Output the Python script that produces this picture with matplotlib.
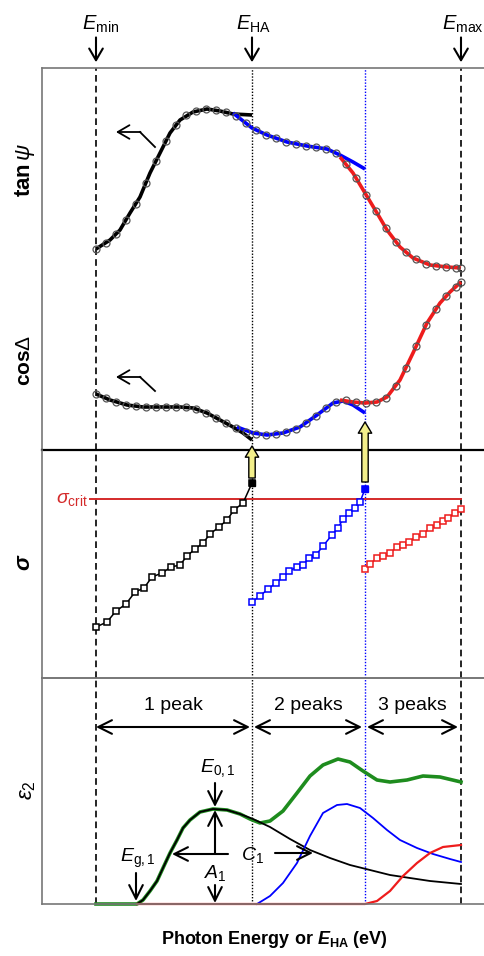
import numpy as np
import matplotlib
matplotlib.use('Agg')
import matplotlib.pyplot as plt

plt.rcParams['font.family'] = ['Liberation Sans', 'DejaVu Sans']
plt.rcParams['mathtext.fontset'] = 'custom'
plt.rcParams['mathtext.rm'] = 'Liberation Sans'
plt.rcParams['mathtext.it'] = 'Liberation Sans:italic'
plt.rcParams['mathtext.bf'] = 'Liberation Sans:bold'
plt.rcParams['mathtext.bfit'] = 'Liberation Sans:italic:bold'

# energies (eV) of the window edges
E_MIN, E_HA, E_2, E_MAX = 1.54, 3.10, 4.23, 5.19

# measured data grid (eV)
e_meas = [1.54, 1.64, 1.74, 1.84, 1.94, 2.04, 2.14, 2.24, 2.34, 2.44, 2.54, 2.64,
          2.74, 2.84, 2.94, 3.04, 3.14, 3.24, 3.34, 3.44, 3.54, 3.64, 3.74, 3.84,
          3.94, 4.04, 4.14, 4.24, 4.34, 4.44, 4.54, 4.64, 4.74, 4.84, 4.94, 5.04,
          5.14, 5.19]
tanpsi_meas = [201, 207, 216, 230, 246, 267, 289, 309, 325, 335, 339, 341,
               340, 338, 334, 327, 320, 315, 312, 308, 306, 304, 303, 301,
               297, 286, 272, 255, 239, 222, 208, 198, 191, 186, 184, 183,
               182, 182]
cosd_meas = [56, 52, 48, 45, 44, 43, 43, 43, 43, 43, 41, 37,
             32, 27, 22, 18, 16, 15, 16, 18, 21, 27, 34, 42,
             48, 50, 48, 47, 48, 52, 64, 82, 104, 125, 141, 154,
             163, 168]

# fits: 1 peak, 2 peaks, 3 peaks
e_fit1_psi = [1.54, 1.68, 1.78, 1.88, 1.98, 2.08, 2.18, 2.28, 2.38, 2.51, 2.65, 2.78, 2.91, 3.10]
tanpsi_fit1 = [201, 210, 220, 237, 253, 277, 297, 317, 330, 338, 341, 339, 336, 335]
e_fit2_psi = [2.91, 3.10, 3.25, 3.45, 3.65, 3.85, 3.98, 4.11, 4.23]
tanpsi_fit2 = [337, 322, 315, 308, 304, 301, 295, 288, 281]
e_fit3_psi = [3.98, 4.11, 4.23, 4.35, 4.45, 4.58, 4.71, 4.88, 5.05, 5.19]
tanpsi_fit3 = [293, 277, 257, 237, 220, 203, 192, 185, 183, 182]

e_fit1_cos = [1.54, 1.68, 1.85, 2.01, 2.18, 2.38, 2.51, 2.65, 2.78, 2.91, 3.01, 3.10]
cosd_fit1 = [56, 50, 45, 43, 43, 43, 42, 37, 30, 23, 17, 10]
e_fit2_cos = [2.95, 3.11, 3.25, 3.41, 3.58, 3.75, 3.91, 4.01, 4.11, 4.23]
cosd_fit2 = [23, 17, 15, 17, 23, 35, 47, 49, 45, 37]
e_fit3_cos = [3.98, 4.11, 4.23, 4.35, 4.45, 4.58, 4.71, 4.85, 4.98, 5.08, 5.19]
cosd_fit3 = [50, 48, 47, 48, 53, 70, 97, 127, 147, 158, 168]

# fit error sigma versus E_HA
e_sig1 = [1.54, 1.65, 1.74, 1.84, 1.93, 2.02, 2.10, 2.20, 2.29, 2.38, 2.45, 2.53,
          2.61, 2.68, 2.77, 2.85, 2.92, 3.01, 3.10]
sig1 = [51, 56, 67, 74, 86, 90, 101, 105, 111, 113, 122, 129, 135, 144, 151, 158,
        168, 175, 195]
e_sig2 = [3.10, 3.18, 3.26, 3.34, 3.41, 3.47, 3.55, 3.61, 3.67, 3.74, 3.81, 3.90,
          3.96, 4.01, 4.07, 4.13, 4.18, 4.23]
sig2 = [76, 82, 89, 95, 101, 107, 111, 113, 120, 123, 132, 143, 150, 159, 165,
        170, 176, 189]
e_sig3 = [4.23, 4.28, 4.35, 4.41, 4.48, 4.55, 4.61, 4.67, 4.74, 4.81, 4.88, 4.95,
          5.01, 5.06, 5.13, 5.19]
sig3 = [109, 114, 120, 122, 125, 131, 133, 136, 141, 144, 150, 153, 157, 160,
        165, 169]
SIG_CRIT = 179

# epsilon2 of the peaks and their sum
e_eps1 = [1.95, 2.01, 2.08, 2.15, 2.21, 2.28, 2.35, 2.41, 2.48, 2.58, 2.71, 2.85,
          2.98, 3.11, 3.28, 3.48, 3.68, 3.88, 4.08, 4.28, 4.48, 4.68, 4.88, 5.19]
eps1 = [0, 4, 13, 23, 36, 51, 64, 76, 84, 92, 95, 94, 90, 85, 77, 65, 54, 46, 39,
        34, 29, 26, 23, 20]
e_eps2 = [3.15, 3.28, 3.41, 3.55, 3.68, 3.81, 3.95, 4.05, 4.18, 4.31, 4.45, 4.58,
          4.75, 4.91, 5.08, 5.19]
eps2 = [0, 8, 21, 41, 68, 91, 99, 100, 96, 86, 74, 64, 56, 50, 45, 42]
e_eps3 = [1.95, 4.23, 4.35, 4.48, 4.61, 4.75, 4.88, 5.01, 5.19]
eps3 = [0, 0, 3, 13, 28, 41, 51, 57, 59]
e_sum = [1.54, 1.95, 2.01, 2.08, 2.15, 2.21, 2.28, 2.35, 2.41, 2.48, 2.58, 2.71,
         2.85, 2.98, 3.08, 3.18, 3.28, 3.41, 3.55, 3.68, 3.81, 3.96, 4.08, 4.21,
         4.35, 4.48, 4.65, 4.81, 4.98, 5.19]
eps_sum = [0, 0, 4, 13, 23, 36, 51, 64, 76, 84, 92, 95, 94, 90, 85, 81, 83, 93,
           111, 128, 139, 145, 142, 133, 124, 122, 124, 128, 127, 122]

RED = '#ee1c1c'
GREEN = '#1e8c1e'
FRAME = '#777777'

W, H = 484.0, 956.0
fig = plt.figure(figsize=(W / 100, H / 100), dpi=100)


def box(top, bot):
    return [42 / W, 1 - bot / H, 448 / W, (bot - top) / H]


ax1 = fig.add_axes(box(68, 450))
ax2 = fig.add_axes(box(450, 678))
ax3 = fig.add_axes(box(678, 904))
ax1.set_ylim(0, 382)
ax2.set_ylim(0, 228)
ax3.set_ylim(0, 226)
for ax in (ax1, ax2, ax3):
    ax.set_xlim(1.0, 5.48)
    ax.set_xticks([])
    ax.set_yticks([])
    ax.patch.set_alpha(0)
    for s in ax.spines.values():
        s.set_color(FRAME)
        s.set_linewidth(1.2)
    ax.axvline(E_MIN, color='k', ls=(0, (4, 2.5)), lw=1.2)
    ax.axvline(E_HA, color='k', ls=(0, (1, 1.2)), lw=1)
    ax.axvline(E_2, color='blue', ls=(0, (1, 1.2)), lw=1)
    ax.axvline(E_MAX, color='k', ls=(0, (4, 2.5)), lw=1.2)
ax1.spines['bottom'].set_color('k')
ax1.spines['bottom'].set_linewidth(1.6)
ax2.spines['top'].set_visible(False)
ax2.set_zorder(5)

# ---- top panel: tan psi and cos Delta
for e, v, c in [(e_fit1_psi, tanpsi_fit1, 'k'), (e_fit2_psi, tanpsi_fit2, 'blue'),
                (e_fit3_psi, tanpsi_fit3, RED), (e_fit1_cos, cosd_fit1, 'k'),
                (e_fit2_cos, cosd_fit2, 'blue'), (e_fit3_cos, cosd_fit3, RED)]:
    ax1.plot(e, v, color=c, lw=2.6, solid_capstyle='butt')
for v in (tanpsi_meas, cosd_meas):
    ax1.plot(e_meas, v, ls='none', marker='o', ms=5, mfc='none',
             mec='#555555', mew=0.9)

# bent arrows
for yh, yd in [(318, 303), (73, 59)]:
    ax1.plot([1.98, 2.13], [yh, yd], color='k', lw=1.3)
    ax1.annotate('', xy=(1.74, yh), xytext=(1.985, yh),
                 arrowprops=dict(arrowstyle='->,head_length=0.6,head_width=0.35',
                                 lw=1.3, color='k', shrinkA=0, shrinkB=0,
                                 mutation_scale=14))

# energy markers above
for e, sub, dx in [(E_MIN, 'min', 0.14), (E_HA, 'HA', 0.16), (E_MAX, 'max', 0.19)]:
    ax1.annotate('', xy=(e, 1.015), xytext=(e, 1.08),
                 xycoords=('data', 'axes fraction'), annotation_clip=False,
                 arrowprops=dict(arrowstyle='->,head_length=0.6,head_width=0.35',
                                 lw=1.5, color='k', shrinkA=0, shrinkB=0,
                                 mutation_scale=14))
    ax1.text(e - dx, 1.113, r'$E_{\rm %s}$' % sub, transform=ax1.get_xaxis_transform(),
             ha='left', va='center', fontsize=14.5, clip_on=False)

# ---- middle panel: sigma
ax2.plot([1.48, E_MAX], [SIG_CRIT, SIG_CRIT], color='#d42a2a', lw=1.4)
ax2.text(1.46, SIG_CRIT, r'$\sigma_{\rm crit}$', color='#d42a2a', ha='right',
         va='center', fontsize=14)
for e, s, c in [(e_sig1, sig1, 'k'), (e_sig2, sig2, 'blue'), (e_sig3, sig3, RED)]:
    ax2.plot(e, s, color=c, lw=1.1, marker='s', ms=4.2, mfc='white', mec=c, mew=1.1)
ax2.plot(e_sig1[-1], sig1[-1], 's', color='k', ms=4.5)
ax2.plot(e_sig2[-1], sig2[-1], 's', color='blue', ms=4.5)

# yellow arrows into the upper panel
for e, y0, y1 in [(E_HA, 200, 232), (E_2, 196, 256)]:
    ax2.annotate('', xy=(e, y1), xytext=(e, y0), annotation_clip=False,
                 arrowprops=dict(arrowstyle='simple,head_length=0.35,head_width=0.42,tail_width=0.2',
                                 fc='#f3ef8a', ec='k', lw=1, shrinkA=0, shrinkB=0,
                                 mutation_scale=23))

# ---- bottom panel: epsilon2
ax3.plot(e_sum, eps_sum, color=GREEN, lw=2.6, clip_on=False)
ax3.plot(e_eps1, eps1, color='k', lw=1.3, clip_on=False)
ax3.plot(e_eps2, eps2, color='blue', lw=1.3, clip_on=False)
ax3.plot(e_eps3, eps3, color=RED, lw=1.6, clip_on=False)

dbl = dict(arrowstyle='<->,head_length=0.7,head_width=0.35', lw=1.5, color='k',
           shrinkA=0, shrinkB=0, mutation_scale=14)
for a, b, lab in [(1.54, 3.08, '1 peak'), (3.12, 4.20, '2 peaks'), (4.25, 5.16, '3 peaks')]:
    ax3.annotate('', xy=(a, 177), xytext=(b, 177), arrowprops=dict(dbl))
    ax3.text((a + b) / 2, 199, lab, ha='center', va='center', fontsize=14)

one = dict(arrowstyle='->,head_length=0.7,head_width=0.35', lw=1.5, color='k',
           shrinkA=0, shrinkB=0, mutation_scale=14)
ax3.text(2.76, 136, r'$E_{0,1}$', ha='center', va='center', fontsize=14)
ax3.annotate('', xy=(2.73, 97), xytext=(2.73, 121), arrowprops=dict(one))
ax3.annotate('', xy=(2.73, 94), xytext=(2.73, 51), arrowprops=dict(one))
ax3.text(2.73, 31, r'$A_1$', ha='center', va='center', fontsize=14)
ax3.annotate('', xy=(2.73, 1), xytext=(2.73, 19), arrowprops=dict(one))
ax3.annotate('', xy=(2.30, 50), xytext=(2.86, 50), arrowprops=dict(one))
ax3.text(3.10, 49, r'$C_1$', ha='center', va='center', fontsize=14)
ax3.annotate('', xy=(3.71, 51), xytext=(3.33, 51), arrowprops=dict(one))
ax3.text(1.96, 46, r'$E_{\rm g,1}$', ha='center', va='center', fontsize=14)
ax3.annotate('', xy=(1.94, 3), xytext=(1.94, 31), arrowprops=dict(one))

# ---- labels
fig.text(25 / W, 1 - 170 / H, r'$\mathbf{tan}\,\psi$', rotation=90, ha='center',
         va='center', fontsize=16)
fig.text(25 / W, 1 - 360 / H, r'$\mathbf{cos}\Delta$', rotation=90, ha='center',
         va='center', fontsize=15)
fig.text(25 / W, 1 - 562 / H, r'$\mathbfit{\sigma}$', rotation=90, ha='center',
         va='center', fontsize=16)
fig.text(27 / W, 1 - 790 / H, r'$\varepsilon_2$', rotation=90, ha='center',
         va='center', fontsize=16)
fig.text(274 / W, 1 - 940 / H, r'Photon Energy or $\mathbfit{E}_{\mathbf{HA}}$ (eV)',
         ha='center', va='center', fontsize=13, fontweight='bold')

fig.savefig('out.png', dpi=100, facecolor='white')
